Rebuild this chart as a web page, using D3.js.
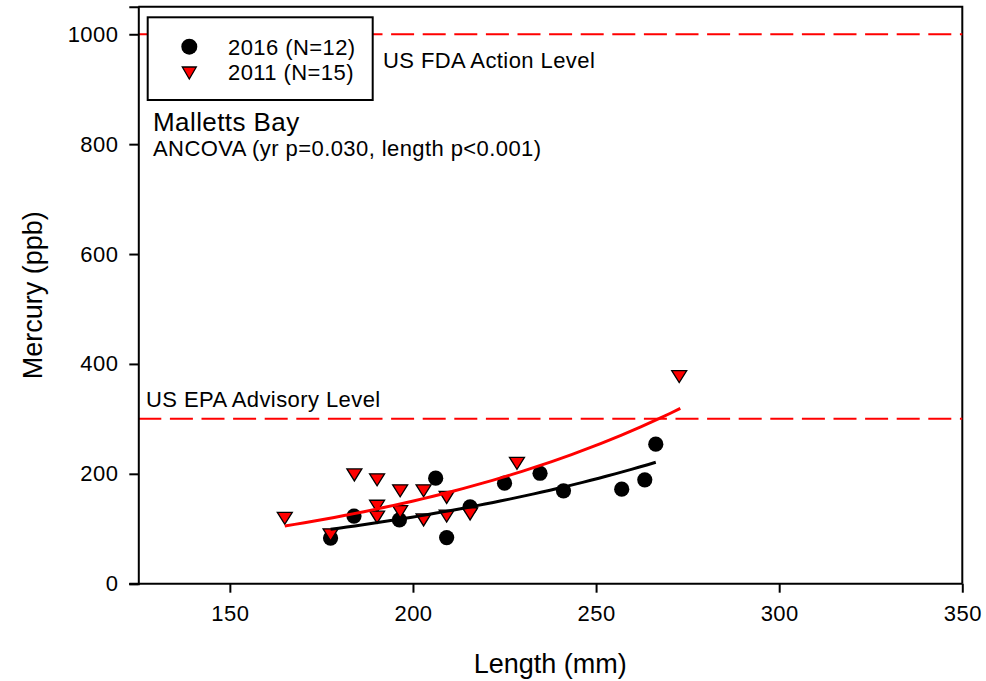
<!DOCTYPE html>
<html>
<head>
<meta charset="utf-8">
<script src="https://cdn.jsdelivr.net/npm/d3@7"></script>
<style>
  body { margin: 0; background: #fff; }
  text { font-family: "Liberation Sans", Arial, sans-serif; fill: #000; }
  .small { letter-spacing: 0.42px; }
</style>
</head>
<body>
<div id="chart"></div>
<script>
// 2016 fish (N=12)
var len2016 = [177.5, 183.9, 196.3, 206.2, 209.2, 215.6, 225.0, 234.7, 241.1, 257.0, 263.3, 266.3];
var hg2016 = [83, 123, 116, 192, 84, 140, 183, 201, 169, 172, 189, 254];

// 2011 fish (N=15)
var len2011 = [165.0, 177.5, 184.0, 190.2, 190.2, 190.2, 196.5, 196.5, 202.9, 202.9, 209.2, 209.2, 215.6, 228.4, 272.7];
var hg2011 = [119, 89, 198, 189, 141, 121, 169, 131, 169, 116, 157, 123, 127, 219, 377];

// exponential fits, y = a * exp(b * x)
var fit2016 = [19.9, 0.00904];
var fitRange2016 = [177.5, 266.3];
var fit2011 = [19.22, 0.01029];
var fitRange2011 = [165.0, 273.0];

// reference levels
var levelValues = [1000, 300];
var levelLabels = ['US FDA Action Level', 'US EPA Advisory Level'];

var xTicks = [150, 200, 250, 300, 350];
var yTicks = [0, 200, 400, 600, 800, 1000];
var legendLabels = ['2016 (N=12)', '2011 (N=15)'];

var width = 986,
    height = 681;

var svg = d3.select('#chart').append('svg')
    .attr('width', width)
    .attr('height', height);

var x = d3.scaleLinear().domain([125, 350]).range([138.3, 962.3]);
var y = d3.scaleLinear().domain([0, 1050]).range([583.7, 6.8]);

// frame (top and right)
svg.append('path')
    .attr('d', 'M' + x(125) + ',' + y(1050) + 'H' + x(350) + 'V' + y(0))
    .attr('fill', 'none')
    .attr('stroke', '#000')
    .attr('stroke-width', 2);

// dashed reference lines
svg.selectAll('.level')
    .data(levelValues)
    .enter()
    .append('line')
    .attr('class', 'level')
    .attr('x1', x(125))
    .attr('x2', x(350))
    .attr('y1', function (d) { return y(d); })
    .attr('y2', function (d) { return y(d); })
    .attr('stroke', '#ff0000')
    .attr('stroke-width', 2)
    .attr('stroke-dasharray', '23,8.6');

// axes
var xAxis = d3.axisBottom(x).tickValues(xTicks).tickSizeOuter(0).tickSize(9).tickPadding(13);
var yAxis = d3.axisLeft(y).tickValues(yTicks).tickFormat(d3.format('d'))
    .tickSizeOuter(0).tickSize(9).tickPadding(11);

var gx = svg.append('g').attr('transform', 'translate(0,' + y(0) + ')').call(xAxis);
var gy = svg.append('g').attr('transform', 'translate(' + x(125) + ',0)').call(yAxis);

[gx, gy].forEach(function (g) {
    g.select('.domain').attr('stroke', '#000').attr('stroke-width', 2);
    g.selectAll('.tick line').attr('stroke', '#000').attr('stroke-width', 2);
    g.selectAll('.tick text')
        .attr('class', 'small')
        .style('font-family', '"Liberation Sans", Arial, sans-serif')
        .style('font-size', '22px')
        .attr('fill', '#000');
});
// x axis line reaches the y tick at 0
gx.select('.domain').attr('d', 'M' + (x(125) - 9) + ',0H' + x(350));

// axis titles
svg.append('text')
    .attr('x', (x(125) + x(350)) / 2)
    .attr('y', 673)
    .attr('text-anchor', 'middle')
    .style('font-size', '27px')
    .text('Length (mm)');

svg.append('text')
    .attr('transform', 'translate(42,' + (y(0) + y(1050)) / 2 + ') rotate(-90)')
    .attr('text-anchor', 'middle')
    .style('font-size', '27px')
    .text('Mercury (ppb)');

// level labels
svg.append('text')
    .attr('class', 'small')
    .attr('x', 383)
    .attr('y', y(levelValues[0]) + 34)
    .style('font-size', '22px')
    .text(levelLabels[0]);
svg.append('text')
    .attr('class', 'small')
    .attr('x', 146)
    .attr('y', y(levelValues[1]) - 12)
    .style('font-size', '22px')
    .text(levelLabels[1]);

// site label
svg.append('text')
    .attr('class', 'small')
    .attr('x', 153)
    .attr('y', 131)
    .style('font-size', '26px')
    .text('Malletts Bay');
svg.append('text')
    .attr('class', 'small')
    .attr('x', 153)
    .attr('y', 156)
    .style('font-size', '22px')
    .text('ANCOVA (yr p=0.030, length p<0.001)');

// triangle pointing down, centred on its box
function downTriangle(w, h) {
    return 'M' + (-w / 2) + ',' + (-h / 2) + 'L' + (w / 2) + ',' + (-h / 2) + 'L0,' + (h / 2) + 'Z';
}

// 2016 circles
svg.selectAll('.pt2016')
    .data(d3.zip(len2016, hg2016))
    .enter()
    .append('circle')
    .attr('class', 'pt2016')
    .attr('cx', function (d) { return x(d[0]); })
    .attr('cy', function (d) { return y(d[1]); })
    .attr('r', 7.6)
    .attr('fill', '#000');

// 2011 triangles
svg.selectAll('.pt2011')
    .data(d3.zip(len2011, hg2011))
    .enter()
    .append('path')
    .attr('class', 'pt2011')
    .attr('d', downTriangle(15, 12))
    .attr('transform', function (d) { return 'translate(' + x(d[0]) + ',' + y(d[1]) + ')'; })
    .attr('fill', '#ff0000')
    .attr('stroke', '#000')
    .attr('stroke-width', 1.3);

// fitted curves
var line = d3.line()
    .x(function (d) { return x(d[0]); })
    .y(function (d) { return y(d[1]); });

function fitPoints(coef, range) {
    return d3.range(0, 41).map(function (i) {
        var xv = range[0] + (range[1] - range[0]) * i / 40;
        return [xv, coef[0] * Math.exp(coef[1] * xv)];
    });
}

svg.append('path')
    .datum(fitPoints(fit2016, fitRange2016))
    .attr('d', line)
    .attr('fill', 'none')
    .attr('stroke', '#000')
    .attr('stroke-width', 3);

svg.append('path')
    .datum(fitPoints(fit2011, fitRange2011))
    .attr('d', line)
    .attr('fill', 'none')
    .attr('stroke', '#ff0000')
    .attr('stroke-width', 3);

// legend
var lg = svg.append('g');
lg.append('rect')
    .attr('x', 147.7)
    .attr('y', 17.3)
    .attr('width', 225)
    .attr('height', 82.7)
    .attr('fill', '#fff')
    .attr('stroke', '#000')
    .attr('stroke-width', 2);
lg.append('circle')
    .attr('cx', 189.3)
    .attr('cy', 46.7)
    .attr('r', 8)
    .attr('fill', '#000');
lg.append('path')
    .attr('d', downTriangle(14, 12))
    .attr('transform', 'translate(189.3,73)')
    .attr('fill', '#ff0000')
    .attr('stroke', '#000')
    .attr('stroke-width', 1.3);
lg.selectAll('.lgtext')
    .data(legendLabels)
    .enter()
    .append('text')
    .attr('class', 'lgtext small')
    .attr('x', 228)
    .attr('y', function (d, i) { return 55 + i * 25; })
    .style('font-size', '22px')
    .text(function (d) { return d; });
</script>
</body>
</html>
